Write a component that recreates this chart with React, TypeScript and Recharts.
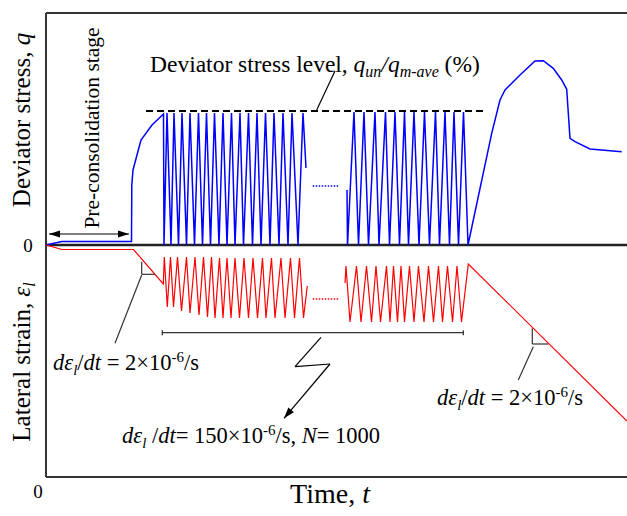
import React from 'react';
import { LineChart, Line, XAxis, YAxis, ReferenceLine, Customized } from 'recharts';

// ---- Deviator stress q (blue) ----
const qStage1Time = [0, 16, 85.5, 85.8, 87, 95, 106, 117.5,
  118, 121, 125, 128, 132.5, 136, 140.5, 144, 148.5, 152.5, 156.5, 160.5, 164.5, 168.5, 173, 177,
  181, 185.5, 189, 194, 197.5, 202.5, 206.5, 211, 215, 219.5, 224, 228, 233, 237, 242, 246, 252, 257, 260];
const qStage1Value = [0, 3.5, 3.5, 60, 75, 105, 120, 131,
  0, 132, 0, 132, 0, 132, 0, 132, 0, 132, 0, 132, 0, 132, 0, 132,
  0, 132, 0, 132, 0, 132, 0, 132, 0, 132, 0, 132, 0, 132, 0, 132, 0, 132, 77];
const qStage2Time = [301, 301.5, 308, 312.5, 318, 322.5, 329, 333, 339.5, 343.5, 349, 353.5, 358.5, 362.5,
  368, 373, 378.5, 383.5, 389.5, 393.5, 399, 403.5, 408, 412.5, 417.5, 422,
  445.7, 454, 459, 474, 489, 497.3, 507.3, 515.7, 520.7, 524, 529, 544, 575.7];
const qStage2Value = [55, 0, 133, 0, 133, 0, 133, 0, 133, 0, 133, 0, 133, 0,
  133, 0, 133, 0, 133, 0, 133, 0, 133, 0, 133, 0,
  111.7, 145, 155, 170, 184, 184.3, 176.7, 165, 155.7, 106.7, 103.3, 96, 93.3];
const qGapTime = [266.7, 293.3];
const qGapValue = [59, 59];

// ---- Lateral strain (red) ----
const eStage1Time = [0, 16, 87.5, 117.3,
  118.3, 121.3, 124.5, 127.5, 131.5, 135.5, 140.5, 144, 149, 153, 157.5, 161.5, 165.5, 169,
  173.5, 177, 181, 185, 189, 193.5, 198, 202.5, 207, 211.5, 216.5, 220, 225.5, 229, 235, 239,
  244.5, 248.5, 253.5, 257.5, 261.3];
const eStage1Value = [0, -4.5, -4.5, -39,
  -12, -62, -12, -62, -12, -66, -12, -68, -12, -70, -12, -72, -12, -73,
  -13, -73, -13, -73, -13, -73, -13, -73, -13, -73, -13, -73, -13, -73, -13, -73,
  -13, -73, -13, -73, -41];
const eStage2Time = [299, 300, 304, 310.5, 315, 320.5, 325.5, 330, 334.5, 340.5, 344, 347.5, 351.5, 355,
  358.5, 363.5, 368, 372.5, 378, 382.5, 387.5, 392.5, 396.5, 401.5, 406.5, 411, 415.5, 422.3, 581];
const eStage2Value = [-38, -21, -77, -21, -77, -21, -77, -21, -77, -21, -77, -21, -77, -21,
  -77, -21, -77, -21, -77, -21, -77, -21, -77, -21, -77, -21, -77, -19, -176];
const eGapTime = [266.7, 293.3];
const eGapValue = [-54, -54];

const rows = (ts: number[], vs: number[]) => ts.map((t, i) => ({ t, v: vs[i] }));

const FONT = "'Liberation Serif', 'Times New Roman', serif";
const INK = '#000';
const FRAME = '#333';
const FS = 22.5;
const SUB = 15;

const head = (xa: number, ya: number, xb: number, yb: number, len = 11, w = 3.6) => {
  const dx = xb - xa, dy = yb - ya;
  const L = Math.hypot(dx, dy) || 1;
  const ux = dx / L, uy = dy / L;
  const bx = xb - ux * len, by = yb - uy * len;
  return `${xb},${yb} ${bx - uy * w},${by + ux * w} ${bx + uy * w},${by - ux * w}`;
};

const arrowShape = (both: boolean) => (p: any) => {
  const { x1, y1, x2, y2 } = p;
  return (
    <g>
      <line x1={x1} y1={y1} x2={x2} y2={y2} stroke={INK} strokeWidth={1.2} />
      <polygon points={head(x1, y1, x2, y2)} fill={INK} />
      {both ? <polygon points={head(x2, y2, x1, y1)} fill={INK} /> : null}
    </g>
  );
};

const Annotations = () => (
  <g fontFamily={FONT} fill={INK}>
    <text x={150} y={72} fontSize={23.5}>
      Deviator stress level,{' '}
      <tspan fontStyle="italic">q</tspan>
      <tspan fontStyle="italic" fontSize={16} dy={5}>un</tspan>
      <tspan fontStyle="italic" dy={-5}>/q</tspan>
      <tspan fontStyle="italic" fontSize={16} dy={5}>m-ave</tspan>
      <tspan dy={-5}> (%)</tspan>
    </text>
    <text transform="translate(99,128) rotate(-90)" textAnchor="middle" fontSize={21.5}>
      Pre-consolidation stage
    </text>
    <text transform="translate(30,120) rotate(-90)" textAnchor="middle" fontSize={25}>
      Deviator stress, <tspan fontStyle="italic">q</tspan>
    </text>
    <text transform="translate(30,362) rotate(-90)" textAnchor="middle" fontSize={25}>
      Lateral strain, <tspan fontStyle="italic">ε</tspan>
      <tspan fontStyle="italic" fontSize={16} dy={5}>l</tspan>
    </text>
    <text x={28} y={252} textAnchor="middle" fontSize={19}>0</text>
    <text x={38} y={498} textAnchor="middle" fontSize={19}>0</text>
    <text x={330} y={503} textAnchor="middle" fontSize={28}>
      Time, <tspan fontStyle="italic">t</tspan>
    </text>
    <text x={53} y={370} fontSize={FS}>
      <tspan fontStyle="italic">dε</tspan>
      <tspan fontStyle="italic" fontSize={SUB} dy={5}>l</tspan>
      <tspan dy={-5}>/</tspan>
      <tspan fontStyle="italic">dt</tspan> = 2×10
      <tspan fontSize={SUB} dy={-8}>-6</tspan>
      <tspan dy={8}>/s</tspan>
    </text>
    <text x={122} y={443} fontSize={FS}>
      <tspan fontStyle="italic">dε</tspan>
      <tspan fontStyle="italic" fontSize={SUB} dy={5}>l</tspan>
      <tspan dy={-5}> /</tspan>
      <tspan fontStyle="italic">dt</tspan>= 150×10
      <tspan fontSize={SUB} dy={-8}>-6</tspan>
      <tspan dy={8}>/s, </tspan>
      <tspan fontStyle="italic">N</tspan>= 1000
    </text>
    <text x={437} y={405} fontSize={FS}>
      <tspan fontStyle="italic">dε</tspan>
      <tspan fontStyle="italic" fontSize={SUB} dy={5}>l</tspan>
      <tspan dy={-5}>/</tspan>
      <tspan fontStyle="italic">dt</tspan> = 2×10
      <tspan fontSize={SUB} dy={-8}>-6</tspan>
      <tspan dy={8}>/s</tspan>
    </text>
  </g>
);

const seg = (x1: number, y1: number, x2: number, y2: number) => [{ x: x1, y: y1 }, { x: x2, y: y2 }] as any;

export default function App() {
  return (
    <div style={{ position: 'absolute', left: 0, top: 0, width: 627, height: 516, background: '#fff' }}>
      <LineChart width={627} height={516} margin={{ top: 13, right: 0, bottom: 39, left: 46 }}>
        <XAxis type="number" dataKey="t" domain={[0, 581]} hide allowDuplicatedCategory={false} />
        <YAxis type="number" domain={[-232, 232]} hide />

        {/* frame */}
        <ReferenceLine segment={seg(0, 232, 581, 232)} stroke={FRAME} strokeWidth={2} />
        <ReferenceLine segment={seg(0, -232, 581, -232)} stroke={FRAME} strokeWidth={2} />
        <ReferenceLine segment={seg(0, -232, 0, 232)} stroke={FRAME} strokeWidth={2} />
        <ReferenceLine y={0} stroke="#222" strokeWidth={2.5} />

        {/* stress level dashed line & leader */}
        <ReferenceLine segment={seg(100, 134, 437, 134)} stroke={INK} strokeWidth={2} strokeDasharray="7 4" />
        <ReferenceLine segment={seg(270.7, 135, 289, 174)} stroke={INK} strokeWidth={1.2} />

        {/* pre-consolidation double arrow */}
        <ReferenceLine segment={seg(3, 11, 83, 11)} shape={arrowShape(true)} />

        {/* slope marker 1 */}
        <ReferenceLine segment={seg(95.7, -16.7, 95.7, -29.3)} stroke={FRAME} strokeWidth={1.2} />
        <ReferenceLine segment={seg(95.7, -29.3, 109, -29.3)} stroke={FRAME} strokeWidth={1.2} />
        <ReferenceLine segment={seg(95.7, -30, 69, -98.3)} stroke={FRAME} strokeWidth={1.2} />

        {/* slope marker 2 */}
        <ReferenceLine segment={seg(486.3, -83.3, 486.3, -99)} stroke={FRAME} strokeWidth={1.2} />
        <ReferenceLine segment={seg(486.3, -99, 502.3, -99)} stroke={FRAME} strokeWidth={1.2} />
        <ReferenceLine segment={seg(487.3, -101.7, 472.3, -135)} stroke={FRAME} strokeWidth={1.2} />

        {/* cyclic range bracket */}
        <ReferenceLine segment={seg(116.3, -87.7, 417.3, -87.7)} stroke={FRAME} strokeWidth={1.3} />
        <ReferenceLine segment={seg(116.3, -85.2, 116.3, -90.2)} stroke={FRAME} strokeWidth={1.3} />
        <ReferenceLine segment={seg(417.3, -85.2, 417.3, -90.2)} stroke={FRAME} strokeWidth={1.3} />

        {/* lightning bolt with arrow */}
        <ReferenceLine segment={seg(275, -92.3, 249, -121.7)} stroke={INK} strokeWidth={1.2} />
        <ReferenceLine segment={seg(249, -121.7, 284, -119)} stroke={INK} strokeWidth={1.2} />
        <ReferenceLine segment={seg(284, -119, 238, -173.3)} shape={arrowShape(false)} />

        <Line data={rows(qStage1Time, qStage1Value)} dataKey="v" type="linear" stroke="#0000ff" strokeWidth={1.5} dot={false} isAnimationActive={false} />
        <Line data={rows(qStage2Time, qStage2Value)} dataKey="v" type="linear" stroke="#0000ff" strokeWidth={1.5} dot={false} isAnimationActive={false} />
        <Line data={rows(qGapTime, qGapValue)} dataKey="v" type="linear" stroke="#0000ff" strokeWidth={1.5} strokeDasharray="1.5 1.5" dot={false} isAnimationActive={false} />
        <Line data={rows(eStage1Time, eStage1Value)} dataKey="v" type="linear" stroke="#ff0000" strokeWidth={1.2} dot={false} isAnimationActive={false} />
        <Line data={rows(eStage2Time, eStage2Value)} dataKey="v" type="linear" stroke="#ff0000" strokeWidth={1.2} dot={false} isAnimationActive={false} />
        <Line data={rows(eGapTime, eGapValue)} dataKey="v" type="linear" stroke="#ff0000" strokeWidth={1.5} strokeDasharray="1.5 1.5" dot={false} isAnimationActive={false} />

        <Customized component={Annotations} />
      </LineChart>
    </div>
  );
}
